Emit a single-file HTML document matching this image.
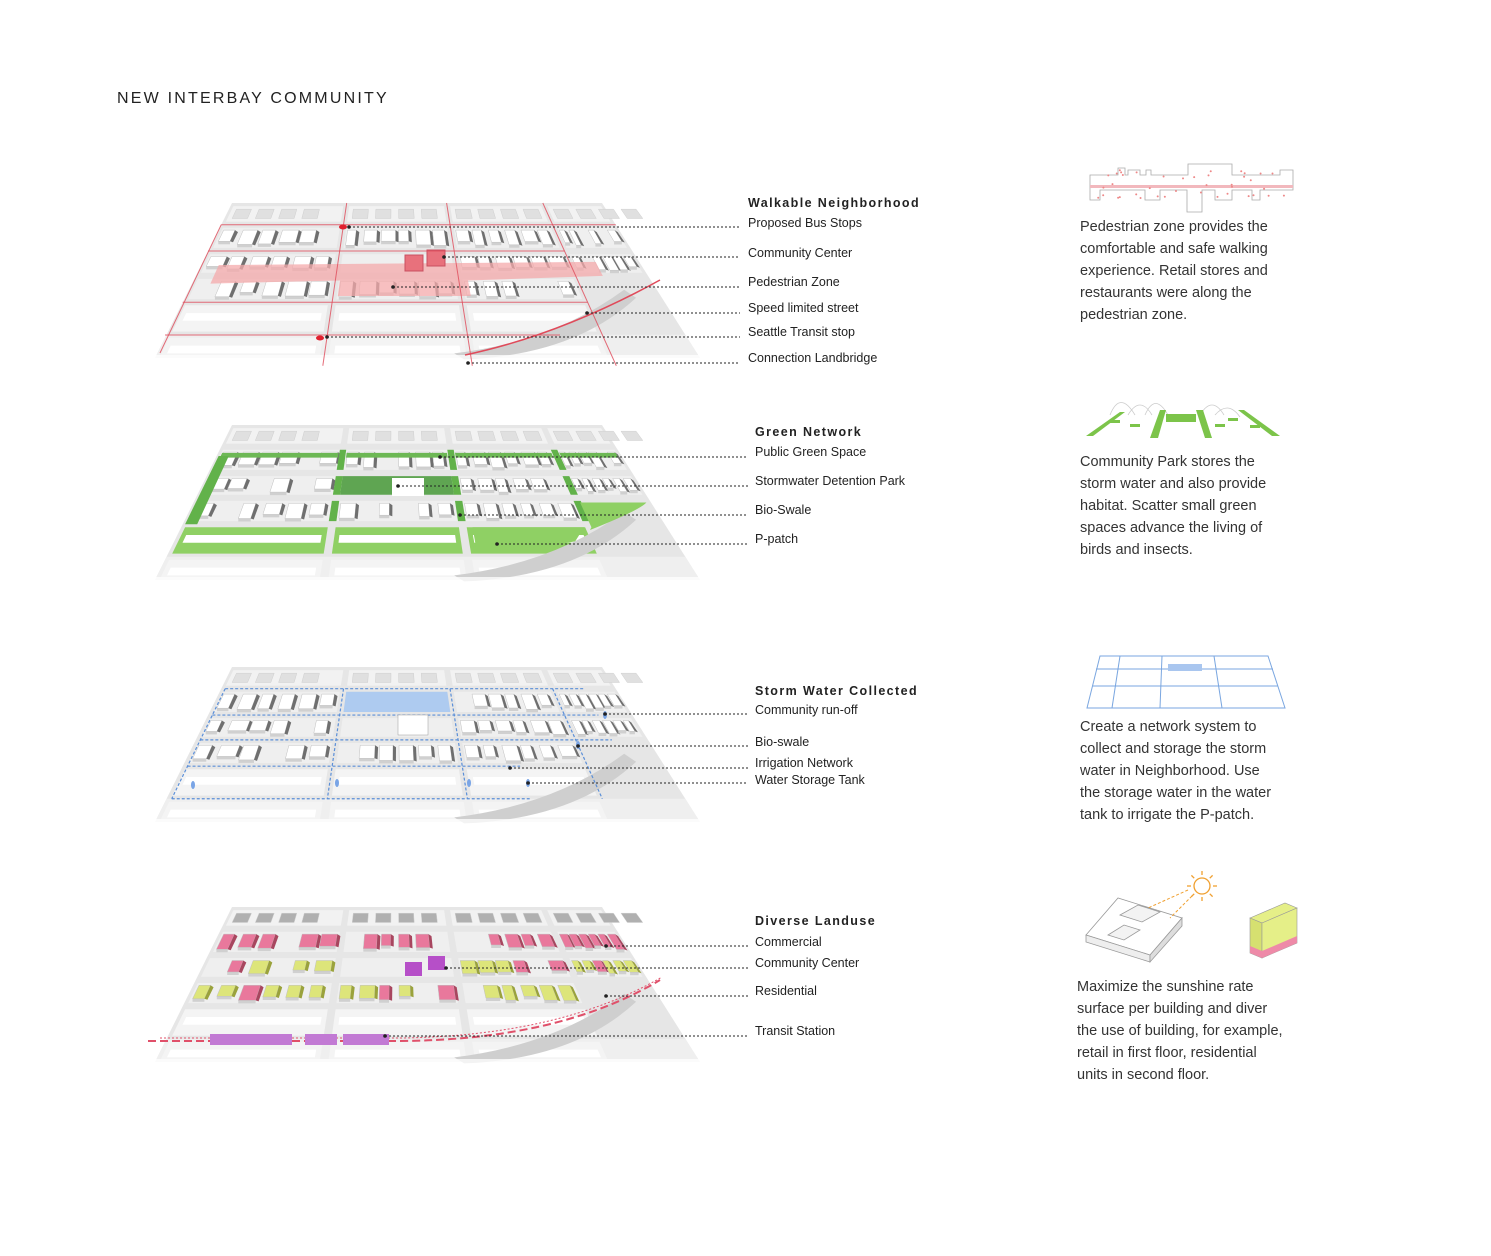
<!DOCTYPE html>
<html><head><meta charset="utf-8">
<style>
html,body{margin:0;padding:0;background:#fff;}
body{width:1491px;height:1256px;position:relative;overflow:hidden;font-family:"Liberation Sans",sans-serif;}
#title{position:absolute;left:117px;top:90px;font-size:16px;letter-spacing:2.2px;color:#222;}
.lbl{position:absolute;font-size:12.5px;color:#222;white-space:nowrap;line-height:14px;}
.hd{font-weight:bold;letter-spacing:1.4px;font-size:12.5px;}
.para{position:absolute;font-size:14.5px;line-height:22px;color:#333;}
svg{position:absolute;left:0;top:0;}
</style></head><body>
<svg id="s" width="1491" height="1256" xmlns="http://www.w3.org/2000/svg"></svg>
<div id="title">NEW INTERBAY COMMUNITY</div>

<div class="lbl hd" style="left:748px;top:196px">Walkable Neighborhood</div>
<div class="lbl" style="left:748px;top:216px">Proposed Bus Stops</div>
<div class="lbl" style="left:748px;top:246px">Community Center</div>
<div class="lbl" style="left:748px;top:275px">Pedestrian Zone</div>
<div class="lbl" style="left:748px;top:301px">Speed limited street</div>
<div class="lbl" style="left:748px;top:325px">Seattle Transit stop</div>
<div class="lbl" style="left:748px;top:351px">Connection Landbridge</div>

<div class="lbl hd" style="left:755px;top:425px">Green Network</div>
<div class="lbl" style="left:755px;top:445px">Public Green Space</div>
<div class="lbl" style="left:755px;top:474px">Stormwater Detention Park</div>
<div class="lbl" style="left:755px;top:503px">Bio-Swale</div>
<div class="lbl" style="left:755px;top:532px">P-patch</div>

<div class="lbl hd" style="left:755px;top:684px">Storm Water Collected</div>
<div class="lbl" style="left:755px;top:703px">Community run-off</div>
<div class="lbl" style="left:755px;top:735px">Bio-swale</div>
<div class="lbl" style="left:755px;top:756px">Irrigation Network</div>
<div class="lbl" style="left:755px;top:773px">Water Storage Tank</div>

<div class="lbl hd" style="left:755px;top:914px">Diverse Landuse</div>
<div class="lbl" style="left:755px;top:935px">Commercial</div>
<div class="lbl" style="left:755px;top:956px">Community Center</div>
<div class="lbl" style="left:755px;top:984px">Residential</div>
<div class="lbl" style="left:755px;top:1024px">Transit Station</div>

<div class="para" style="left:1080px;top:216px">Pedestrian zone provides the<br>comfortable and safe walking<br>experience. Retail stores and<br>restaurants were along the<br>pedestrian zone.</div>
<div class="para" style="left:1080px;top:451px">Community Park stores the<br>storm water and also provide<br>habitat. Scatter small green<br>spaces advance the living of<br>birds and insects.</div>
<div class="para" style="left:1080px;top:716px">Create a network system to<br>collect and storage the storm<br>water in Neighborhood. Use<br>the storage water in the water<br>tank to irrigate the P-patch.</div>
<div class="para" style="left:1077px;top:976px">Maximize the sunshine rate<br>surface per building and diver<br>the use of building, for example,<br>retail in first floor, residential<br>units in second floor.</div>

<script>
var S=document.getElementById('s'),h='';
function poly(pts,f,st,sw,extra){return '<polygon points="'+pts.map(p=>p[0].toFixed(1)+','+p[1].toFixed(1)).join(' ')+'" fill="'+f+'" stroke="'+(st||'none')+'" stroke-width="'+(sw||0)+'" '+(extra||'')+'/>';}
var seed=3;function rnd(){seed=(seed*9301+49297)%233280;return seed/233280;}
var U=[0,0.31,0.58,0.84,1.0],V=[0,0.14,0.31,0.47,0.64,0.85,1.0];
function map(y0,mode){
 var TL=[232,y0],TR=[602,y0],BR=[700,y0+155],BL=[155,y0+155];
 function P(u,v){var x1=TL[0]+(TR[0]-TL[0])*u,x2=BL[0]+(BR[0]-BL[0])*u;var y=y0+155*v;return [x1+(x2-x1)*v,y];}
 function Q(u1,v1,u2,v2){return [P(u1,v1),P(u2,v1),P(u2,v2),P(u1,v2)];}
 h+=poly([TL,TR,BR,BL],'#e6e6e6');
 h+=poly(Q(0,0.85,1,1),'#efefef');
 var g=0.008,gv=0.02;
 for(var i=0;i<4;i++)for(var j=0;j<6;j++){
  var u1=U[i]+g,u2=U[i+1]-g,v1=V[j]+gv,v2=V[j+1]-gv;
  if(i==3&&j>=3)continue;
  var col=(j==0)?'#f2f2f2':(j>=4?'#f4f4f4':'#efefef');
  var fill=col;
  if(mode==2&&j==4&&i<3)fill='#8fd064';
  if(mode==2&&j==2&&i==1)fill='#5fa552';
  if(mode==3&&j==1&&i==1)fill='#aecbf0';
  h+=poly(Q(u1,v1,u2,v2),fill);
  if(j>=1&&j<=3&&!(j==2&&i==1)&&!(mode==3&&j==1&&i==1)){
   var n=6,w=(u2-u1)/n;
   for(var k=0;k<n;k++){
    if(rnd()<0.1)continue;
    var a=u1+k*w+w*0.1,b=a+w*(0.5+rnd()*0.35),c=v1+0.015,d=v2-0.015-rnd()*0.03;
    var bf='#ffffff',sf='#6f6f6f';
    if(mode==4){bf=(j==1||rnd()<0.25)?'#e9789c':'#dde57a';sf=(bf=='#e9789c')?'#a8465f':'#9aa23c';}
    var q=Q(a,c,b,d);
    h+=poly([q[3],q[2],[q[2][0],q[2][1]+3],[q[3][0],q[3][1]+3]],'#d0d0d0');
    h+=poly(q,bf,'#c0c0c0',0.5);
    h+=poly([q[1],[q[1][0]+3,q[1][1]+2],[q[2][0]+3,q[2][1]+1],q[2]],sf);
   }
  }
  if(j==0){ for(var k=0;k<4;k++){var a=U[i]+0.02+k*0.06,q=Q(a,0.04,a+0.04,0.1);h+=poly(q,mode==4?'#b0b0b0':'#e0e0e0','#cfcfcf',0.5);} }
  if(j==4||j==5){ var q=Q(u1+0.01,v1+0.05,u2-0.01,v1+0.1);h+=poly(q,'#ffffff');}
 }
 // subtle landbridge shadow
 var p1=P(0.55,0.97),p2=P(0.93,0.56);
 h+='<path d="M'+p1+' Q'+(p2[0]-70)+','+(p1[1]-12)+' '+p2+' L'+(p2[0]+12)+','+(p2[1]+8)+' Q'+(p2[0]-50)+','+(p1[1]+2)+' '+(p1[0]+10)+','+(p1[1]+6)+' Z" fill="#cfcfcf"/>';
 h+='<rect x="150" y="'+(y0+152)+'" width="560" height="12" fill="#fff" opacity="0.75"/>';
 if(mode==1){
  h+=poly([P(0.04,0.40),P(0.9,0.38),P(0.9,0.47),P(0.6,0.5),P(0.6,0.6),P(0.32,0.6),P(0.32,0.5),P(0.04,0.52)],'#f4a9ab','none',0,'opacity="0.75"');
  h+='<rect x="405" y="255" width="18" height="16" fill="#e8717c" stroke="#c85060"/><rect x="427" y="250" width="18" height="16" fill="#e8717c" stroke="#c85060"/>';
  var L=[[P(0,0.14),P(1,0.14)],[P(0,0.31),P(0.84,0.31)],[P(0,0.64),P(0.84,0.64)],[[165,y0+132],[560,y0+132]]];
  [0.31,0.58,0.84].forEach(function(u){var a=P(u,0),b=P(u,1.05);L.push([a,[b[0],b[1]]]);});
  L.push([P(0,0.14),[160,y0+150]]);
  L.forEach(function(l){h+='<line x1="'+l[0][0]+'" y1="'+l[0][1]+'" x2="'+l[1][0]+'" y2="'+l[1][1]+'" stroke="#e04a5a" stroke-width="1" opacity="0.8"/>';});
  h+='<path d="M465,355 Q560,335 660,280" fill="none" stroke="#e04a5a" stroke-width="1.5"/>';
  h+='<ellipse cx="343" cy="227" rx="4" ry="2.5" fill="#e0202e"/><ellipse cx="320" cy="338" rx="4" ry="2.5" fill="#e0202e"/>';
 }
 if(mode==2){
  [0.31,0.58,0.84].forEach(function(u){for(var j=1;j<4;j++){var q=Q(u-0.008,V[j]+0.02,u+0.008,V[j+1]-0.02);h+=poly(q,'#62b24a');}});
  for(var i=0;i<4;i++){h+=poly(Q(U[i]+0.01,0.18,U[i+1]-0.01,0.21),'#6db855');}
  h+=poly(Q(0.005,0.2,0.03,0.64),'#62b24a');
  h+='<path d="M'+P(0.845,0.5)+' L'+P(0.99,0.5)+' Q640,510 590,530 L'+P(0.845,0.66)+' Z" fill="#8fd064"/>';
  h+='<path d="M'+P(0.6,0.66)+' L'+P(0.83,0.66)+' L'+P(0.8,0.75)+' Q 560,545 475,553 L'+P(0.6,0.8)+' Z" fill="#8fd064"/>';
  h+='<rect x="392" y="478" width="32" height="18" fill="#fff"/>';
 }
 if(mode==3){
  var c='#5b8fd8';
  [0.14,0.31,0.47,0.64,0.85].forEach(function(v){var a=P(0.01,v),b=P(0.92,v);if(v>0.6)b=P(0.7,v);h+='<line x1="'+a[0]+'" y1="'+a[1]+'" x2="'+b[0]+'" y2="'+b[1]+'" stroke="'+c+'" stroke-dasharray="3,2" stroke-width="1.2"/>';});
  [0.01,0.31,0.58,0.84].forEach(function(u){var a=P(u,0.14),b=P(u,0.85);h+='<line x1="'+a[0]+'" y1="'+a[1]+'" x2="'+b[0]+'" y2="'+b[1]+'" stroke="'+c+'" stroke-dasharray="3,2" stroke-width="1.2"/>';});
  h+='<rect x="398" y="715" width="30" height="20" fill="#fff" stroke="#999" stroke-width="0.5"/>';
  [[193,785],[337,783],[469,783],[528,783],[578,745],[605,715]].forEach(function(p){h+='<ellipse cx="'+p[0]+'" cy="'+p[1]+'" rx="2" ry="4" fill="#7aa5e6"/>';});
 }
 if(mode==4){
  h+='<rect x="405" y="962" width="17" height="14" fill="#b64fc8"/><rect x="428" y="956" width="17" height="14" fill="#b64fc8"/>';
  h+='<path d="M148,1041 L400,1041 Q560,1040 660,980" fill="none" stroke="#e0506a" stroke-width="2" stroke-dasharray="8,4"/>';
  h+='<path d="M160,1038 L400,1038 Q560,1036 662,977" fill="none" stroke="#e0506a" stroke-width="1" stroke-dasharray="2,2"/>';
  h+='<rect x="210" y="1034" width="82" height="11" fill="#c27ad4"/><rect x="305" y="1034" width="32" height="11" fill="#c27ad4"/><rect x="343" y="1034" width="46" height="11" fill="#c27ad4"/>';
 }
}
map(203,1);map(425,2);map(667,3);map(907,4);
function lead(x1,y,x2){h+='<line x1="'+x1+'" y1="'+y+'" x2="'+(x2||740)+'" y2="'+y+'" stroke="#222" stroke-width="1" stroke-dasharray="2,2"/><circle cx="'+x1+'" cy="'+y+'" r="1.8" fill="#222"/>';}
[[349,227],[444,257],[393,287],[587,313],[327,337],[468,363]].forEach(function(a){lead(a[0],a[1]);});
[[440,457],[398,486],[460,515],[497,544]].forEach(function(a){lead(a[0],a[1],748);});
[[605,714],[578,746],[510,768],[528,783]].forEach(function(a){lead(a[0],a[1],748);});
[[606,946],[446,968],[606,996],[385,1036]].forEach(function(a){lead(a[0],a[1],748);});
h+='<path d="M1090,175 L1118,175 L1118,168 L1125,168 L1125,175 L1128,175 L1128,170 L1140,170 L1140,175 L1146,175 L1146,170 L1151,170 L1151,175 L1188,175 L1188,164 L1232,164 L1232,175 L1280,175 L1280,170 L1293,170 L1293,190 L1260,190 L1260,200 L1252,200 L1252,190 L1232,190 L1232,200 L1215,200 L1215,190 L1202,190 L1202,212 L1187,212 L1187,190 L1160,190 L1160,200 L1145,200 L1145,190 L1100,190 L1100,200 L1090,200 Z" fill="#fff" stroke="#aaa" stroke-width="0.8"/>';
h+='<rect x="1090" y="185" width="203" height="3" fill="#f2b8bd"/>';
for(var k=0;k<40;k++){h+='<circle cx="'+(1095+rnd()*195)+'" cy="'+(170+rnd()*28)+'" r="1" fill="#e88"></circle>';}
h+='<g fill="none" stroke="#ccc" stroke-width="0.8"><path d="M1110,415 Q1120,390 1135,415"/><path d="M1128,415 Q1140,395 1152,415"/><path d="M1145,415 Q1155,392 1168,415"/><path d="M1200,415 Q1212,395 1224,415"/><path d="M1215,415 Q1228,400 1240,417"/></g>';
h+='<g fill="#7cc44a"><polygon points="1086,436 1093,436 1125,412 1120,412"/><polygon points="1150,438 1158,438 1166,410 1160,410"/><rect x="1166" y="414" width="30" height="8"/><polygon points="1196,410 1203,410 1212,438 1205,438"/><polygon points="1238,410 1244,410 1280,436 1272,436"/><rect x="1110" y="420" width="10" height="3"/><rect x="1130" y="424" width="10" height="3"/><rect x="1215" y="424" width="10" height="3"/><rect x="1228" y="418" width="10" height="3"/><rect x="1250" y="425" width="10" height="3"/></g>';
h+='<g stroke="#7aa6e0" stroke-width="1" fill="none"><polygon points="1100,656 1268,656 1285,708 1087,708"/><line x1="1096" y1="669" x2="1273" y2="669"/><line x1="1092" y1="686" x2="1278" y2="686"/><line x1="1120" y1="656" x2="1112" y2="708"/><line x1="1162" y1="656" x2="1160" y2="708"/><line x1="1214" y1="656" x2="1222" y2="708"/></g><rect x="1168" y="664" width="34" height="7" fill="#a9c6ef"/>';
h+='<g stroke="#999" stroke-width="0.8"><polygon points="1086,935 1118,898 1182,918 1150,955" fill="#fff"/><polygon points="1086,935 1150,955 1150,962 1086,942" fill="#eee"/><polygon points="1150,955 1182,918 1182,926 1150,962" fill="#ddd"/><polygon points="1120,915 1138,905 1160,912 1142,922" fill="#f3f3f3"/><polygon points="1108,935 1124,925 1140,930 1124,940" fill="#f3f3f3"/></g>';
h+='<g stroke="#f0a030" stroke-width="1.3"><circle cx="1202" cy="886" r="8" fill="none"/>';
for(var k=0;k<8;k++){var an=k*Math.PI/4;h+='<line x1="'+(1202+11*Math.cos(an))+'" y1="'+(886+11*Math.sin(an))+'" x2="'+(1202+15*Math.cos(an))+'" y2="'+(886+15*Math.sin(an))+'"/>';}
h+='</g><g stroke="#f0a030" stroke-dasharray="3,2"><line x1="1188" y1="890" x2="1148" y2="908"/><line x1="1192" y1="896" x2="1170" y2="918"/></g>';
h+='<polygon points="1250,918 1285,903 1297,908 1262,923" fill="#e5ef88" stroke="#999" stroke-width="0.6"/><polygon points="1250,918 1262,923 1262,958 1250,953" fill="#d6e070" stroke="#999" stroke-width="0.6"/><polygon points="1262,923 1297,908 1297,943 1262,958" fill="#e5ef88" stroke="#999" stroke-width="0.6"/><polygon points="1250,946 1262,951 1297,936 1297,943 1262,958 1250,953" fill="#ee8aa8"/>';
S.innerHTML=h;
</script>
</body></html>
